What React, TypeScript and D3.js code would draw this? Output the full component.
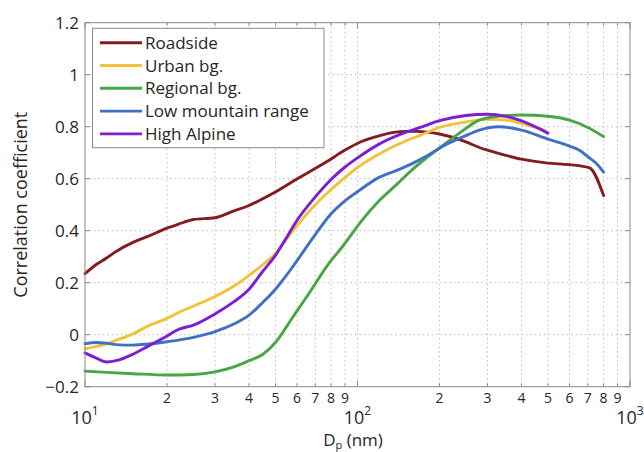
import React from 'react';
import * as d3 from 'd3';

const roadsideD = [10, 11, 12, 13, 15, 17, 20, 22, 25, 30, 35, 40, 44, 49, 58, 77, 90, 103, 120, 136, 150, 165, 200, 250, 280, 300, 350, 400, 500, 600, 710, 800];
const roadsideR = [0.235, 0.27, 0.295, 0.32, 0.355, 0.378, 0.41, 0.425, 0.443, 0.45, 0.475, 0.497, 0.518, 0.544, 0.59, 0.665, 0.71, 0.742, 0.765, 0.778, 0.782, 0.782, 0.772, 0.742, 0.72, 0.71, 0.69, 0.675, 0.66, 0.654, 0.642, 0.535];

const urbanD = [10, 11, 12, 13, 15, 17, 20, 22, 25, 30, 35, 40, 45, 50, 55, 60, 70, 80, 90, 100, 120, 150, 170, 200, 250, 300, 350, 400, 450, 490];
const urbanR = [-0.055, -0.045, -0.035, -0.022, 0.003, 0.033, 0.063, 0.085, 0.11, 0.147, 0.185, 0.228, 0.27, 0.312, 0.37, 0.42, 0.5, 0.558, 0.605, 0.643, 0.695, 0.745, 0.767, 0.797, 0.818, 0.828, 0.826, 0.812, 0.797, 0.785];

const regionalD = [10, 12, 15, 20, 25, 30, 35, 40, 45, 50, 58, 67, 77, 89, 103, 120, 140, 160, 180, 210, 245, 280, 350, 400, 500, 600, 700, 800];
const regionalR = [-0.14, -0.145, -0.15, -0.155, -0.153, -0.143, -0.125, -0.1, -0.075, -0.03, 0.069, 0.165, 0.262, 0.345, 0.435, 0.515, 0.58, 0.638, 0.682, 0.735, 0.787, 0.825, 0.843, 0.845, 0.84, 0.825, 0.797, 0.762];

const lowD = [10, 11, 12, 13, 15, 17, 20, 25, 30, 35, 40, 45, 50, 55, 60, 70, 80, 90, 100, 120, 140, 160, 180, 210, 245, 280, 330, 400, 500, 600, 650, 700, 750, 800];
const lowR = [-0.035, -0.03, -0.033, -0.038, -0.04, -0.036, -0.027, -0.01, 0.012, 0.04, 0.075, 0.125, 0.175, 0.23, 0.285, 0.385, 0.465, 0.515, 0.55, 0.605, 0.633, 0.66, 0.688, 0.73, 0.762, 0.787, 0.8, 0.787, 0.752, 0.725, 0.71, 0.685, 0.66, 0.625];

const highD = [10, 11, 12, 13, 15, 17, 20, 22, 25, 30, 35, 40, 45, 50, 55, 60, 70, 80, 90, 100, 120, 150, 170, 200, 250, 300, 350, 400, 500];
const highR = [-0.07, -0.09, -0.105, -0.1, -0.075, -0.045, -0.005, 0.02, 0.037, 0.08, 0.125, 0.175, 0.245, 0.305, 0.375, 0.44, 0.53, 0.597, 0.645, 0.68, 0.733, 0.778, 0.797, 0.823, 0.843, 0.848, 0.84, 0.822, 0.775];

const seriesNames = ['Roadside', 'Urban bg.', 'Regional bg.', 'Low mountain range', 'High Alpine'];
const seriesColors = ['#821c1f', '#f2c23c', '#46a845', '#3f70c4', '#7a1fd2'];
const seriesD = [roadsideD, urbanD, regionalD, lowD, highD];
const seriesR = [roadsideR, urbanR, regionalR, lowR, highR];

const yTicks = [-0.2, 0, 0.2, 0.4, 0.6, 0.8, 1, 1.2];
const yTickLabels = ['\u22120.2', '0', '0.2', '0.4', '0.6', '0.8', '1', '1.2'];
const majorX = [10, 100, 1000];
const majorExp = ['1', '2', '3'];
const minorMult = [2, 3, 4, 5, 6, 7, 8, 9];

const FONT = '"Open Sans", sans-serif';
const AXIS = '#8a8a8a';
const GRID = '#bdbdbd';
const TEXT = '#262626';

export default function App() {
  const W = 644, H = 452;
  const L = 85, R = 630, T = 22.7, B = 386.7;
  const x = d3.scaleLog().domain([10, 1000]).range([L, R]);
  const y = d3.scaleLinear().domain([-0.2, 1.2]).range([B, T]);

  const minorX: number[] = [];
  [10, 100].forEach((d) => minorMult.forEach((m) => minorX.push(d * m)));

  const line = d3
    .line<[number, number]>()
    .x((p) => x(p[0]))
    .y((p) => y(p[1]))
    .curve(d3.curveMonotoneX);

  const legendRows = [42.7, 65.5, 88.3, 111.1, 133.9];

  return (
    <svg
      width={W}
      height={H}
      style={{ position: 'absolute', left: 0, top: 0, background: '#fff' }}
      fontFamily={FONT}
    >
      <rect x={0} y={0} width={W} height={H} fill="#fff" />
      {yTicks.filter((t) => t > -0.2 && t < 1.2).map((t) => (
        <line key={'gy' + t} x1={L} x2={R} y1={y(t)} y2={y(t)} stroke={GRID} strokeWidth={1} strokeDasharray="1.5,3" />
      ))}
      {[...minorX, 100].map((v) => (
        <line key={'gx' + v} x1={x(v)} x2={x(v)} y1={T} y2={B} stroke={GRID} strokeWidth={1} strokeDasharray="1.5,3" />
      ))}
      {yTicks.map((t) => (
        <g key={'ty' + t}>
          <line x1={L} x2={L + 5} y1={y(t)} y2={y(t)} stroke={AXIS} />
          <line x1={R} x2={R - 5} y1={y(t)} y2={y(t)} stroke={AXIS} />
        </g>
      ))}
      {minorX.map((v) => (
        <g key={'tmx' + v}>
          <line x1={x(v)} x2={x(v)} y1={B} y2={B - 3} stroke={AXIS} />
          <line x1={x(v)} x2={x(v)} y1={T} y2={T + 3} stroke={AXIS} />
        </g>
      ))}
      {majorX.map((v) => (
        <g key={'tMx' + v}>
          <line x1={x(v)} x2={x(v)} y1={B} y2={B - 6} stroke={AXIS} />
          <line x1={x(v)} x2={x(v)} y1={T} y2={T + 6} stroke={AXIS} />
        </g>
      ))}
      {seriesD.map((ds, i) => {
        const pts: [number, number][] = ds.map((d, j) => [d, seriesR[i][j]]);
        return (
          <path key={'s' + i} d={line(pts) || ''} fill="none" stroke={seriesColors[i]} strokeWidth={2.9} strokeLinejoin="round" strokeLinecap="round" />
        );
      })}
      <rect x={L} y={T} width={R - L} height={B - T} fill="none" stroke={AXIS} strokeWidth={1} />
      {yTicks.map((t, i) => (
        <text key={'yl' + t} x={79} y={y(t)} dy="0.36em" textAnchor="end" fontSize={17} fill={TEXT}>
          {yTickLabels[i]}
        </text>
      ))}
      {minorX.map((v, i) => (
        <text key={'xl' + v} x={x(v)} y={403} textAnchor="middle" fontSize={14} fill={TEXT}>
          {minorMult[i % 8]}
        </text>
      ))}
      {majorX.map((v, i) => (
        <text key={'xM' + v} x={x(v)} y={424} textAnchor="middle" fontSize={18} fill={TEXT}>
          10<tspan fontSize={12} dy={-9}>{majorExp[i]}</tspan>
        </text>
      ))}
      <text x={353} y={446} textAnchor="middle" fontSize={17} fill={TEXT}>
        D<tspan fontSize={11} dy={3}>p</tspan><tspan dy={-3}> (nm)</tspan>
      </text>
      <text transform={`translate(27, ${y(0.5)}) rotate(-90)`} textAnchor="middle" fontSize={18} fill={TEXT}>
        Correlation coefficient
      </text>
      <rect x={92.5} y={28.3} width={231.5} height={119.4} fill="#fff" stroke={AXIS} strokeWidth={1} />
      {seriesNames.map((n, i) => (
        <g key={'lg' + i}>
          <line x1={100} x2={142} y1={legendRows[i]} y2={legendRows[i]} stroke={seriesColors[i]} strokeWidth={2.9} />
          <text x={145} y={legendRows[i]} dy="0.36em" fontSize={17} fill={TEXT}>{n}</text>
        </g>
      ))}
    </svg>
  );
}
